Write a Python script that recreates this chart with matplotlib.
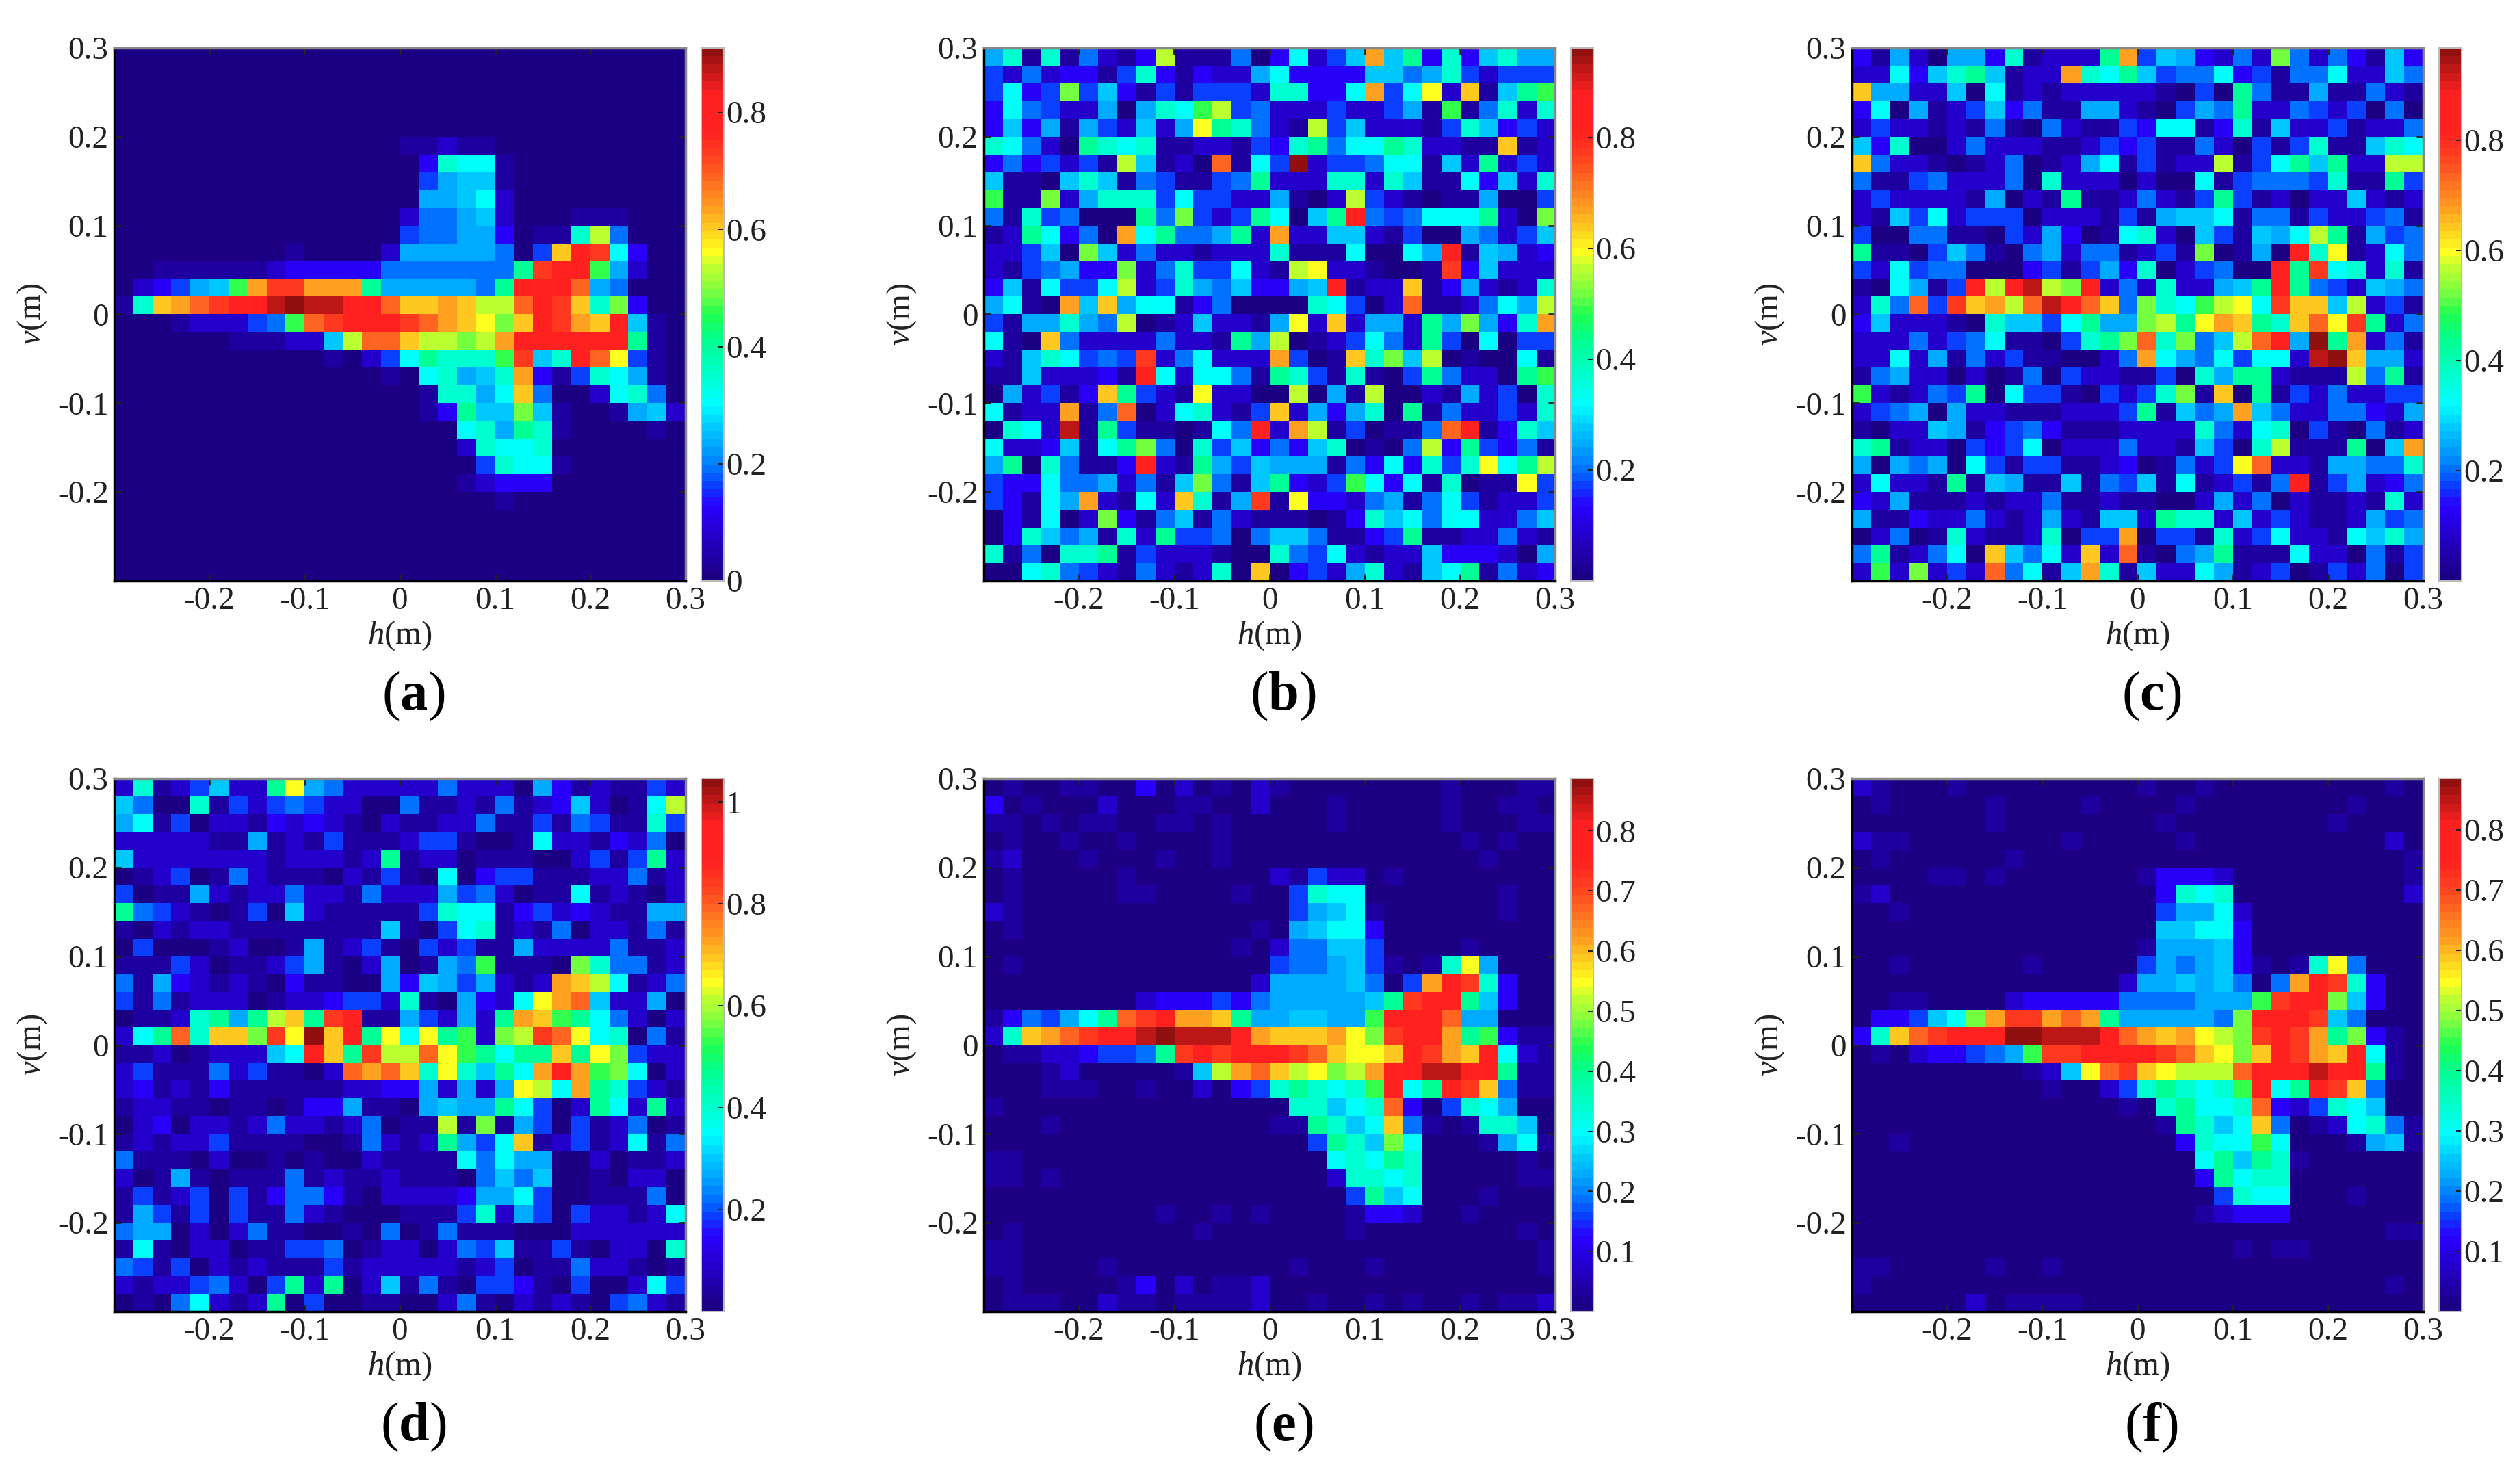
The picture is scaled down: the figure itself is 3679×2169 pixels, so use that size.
#!/usr/bin/env python

import matplotlib
matplotlib.use("Agg")
import matplotlib.pyplot as plt
import numpy as np
from matplotlib.colors import LinearSegmentedColormap

plt.rcParams["font.family"] = ["Liberation Serif", "DejaVu Serif"]
plt.rcParams["mathtext.fontset"] = "custom"
plt.rcParams["mathtext.rm"] = "Liberation Serif"
plt.rcParams["mathtext.it"] = "Liberation Serif:italic"
plt.rcParams["mathtext.bf"] = "Liberation Serif:bold"
plt.rcParams["axes.unicode_minus"] = False

# each character is one cell, see levels below
# rows go from top (v=0.3) to bottom, spaces only help counting, short rows end in zeros
levels = {"0": 0.0, "1": 0.04, "2": 0.09, "3": 0.135, "4": 0.175, "5": 0.21, "6": 0.25,
          "7": 0.285, "8": 0.33, "9": 0.39, "a": 0.45, "b": 0.50, "c": 0.545, "d": 0.59,
          "e": 0.62, "f": 0.66, "g": 0.70, "h": 0.75, "i": 0.80, "j": 0.87, "k": 0.96, "l": 1.0}

panel_a = ["", "", "", "", "",
           "00000 00000 00000 11211",
           "00000 00000 00000 03988 1",
           "00000 00000 00000 04677 1",
           "00000 00000 00000 06678 2",
           "00000 00000 00000 25567 20001 11",
           "00000 00000 00000 45566 30119 d5",
           "00000 00001 00002 66666 504fj i83",
           "00111 11123 33335 55555 5aijj b62",
           "02346 7bgii ggga6 66665 ajjjh 65",
           "19fgh ijjkl kkjjh ffgfd dhjif 9c3",
           "00012 2245b hijjj ihgfe cfjig fj71",
           "00000 01112 27dhh fddcd gjjjj jja1",
           "00000 00000 01024 8a999 bi79j he41",
           "00000 00000 00001 08967 9g314 9861",
           "00000 00000 00000 01996 8f500 28950",
           "00000 00000 00000 013a7 7c710 01672",
           "00000 00000 00000 00089 6a910 0001",
           "00000 00000 00000 00029 88900",
           "00000 00000 00000 00004 98810",
           "00000 00000 00000 00012 33300",
           "00000 00000 00000 00000 1",
           "", "", "", ""]

panel_b = ["69191 5213d 11150 38247 g7a39 37966",
           "42523 31493 13226 83333 77569 42444",
           "4834c 47314 14442 99338 g48e2 f17ab",
           "38542 26069 8bd45 22242 2461b 15929",
           "37361 64272 6ea95 21d47 22214 97342",
           "98520 a9891 12214 39a58 8a922 11f12",
           "35342 41d71 20h18 4l244 58817 2a242",
           "71107 97154 1145a 22299 29711 83729",
           "b11c2 69994 84422 6102d 42101 16004",
           "51945 000a5 c424a 807aj 54588 8a20c",
           "12a83 50g8a 556a2 g2277 21400 65247",
           "22470 c7252 21222 91118 0086j 17623",
           "21456 33c25 94482 1de22 1001i 37222",
           "37184 48d24 96573 367j1 22f13 62129",
           "6810g 7f688 13500 00984 02h11 2586d",
           "41669 65d01 27221 6e2f2 662a6 c639g",
           "810f5 22225 221a6 d0124 852a4 08044",
           "21798 454i2 58222 g401f 9c7d0 10081",
           "11722 231j8 28851 a9419 104a5 220ab",
           "06241 3fa42 1e220 0d061 d0021 62409",
           "8122g 15h02 89214 f2636 90a15 22429",
           "0982k 1a411 0185j 2gd14 0115h j1397",
           "82237 18ac5 09473 53790 105d3 a4351",
           "6a095 113j2 1a647 66615 38394 9e8ad",
           "43385 56251 7c517 a324b 83819 011e4",
           "43186 g2182 f916i 1e332 56158 41224",
           "03180 2c315 71521 11013 97858 82257",
           "03975 6192a 44505 77511 34a11 22521",
           "91509 9a142 22100 95482 12273 33206",
           "00895 42152 1290f 03426 92178 a1523"]

panel_c = ["31620 66391 222ag 47632 52c52 53173",
           "22837 9a712 2g98a 74558 34155 82275",
           "f6622 70812 12222 21040 a5116 11521",
           "38061 24735 11662 10465 a2254 24050",
           "24221 21510 52114 38813 91722 41225",
           "73900 25222 11243 41152 04149 11798",
           "f5221 01250 12681 4122d 148a7 a22dd",
           "51145 22250 92220 20081 45554 911a4",
           "24222 21602 1a112 5214a 41202 27212",
           "21748 24440 22214 16778 15514 22451",
           "40055 11042 63018 92074 1768d a1645",
           "a1104 75105 62551 241c0 160j9 e1285",
           "42845 50003 41463 90245 00jai 89291",
           "10861 4jdjk dcj25 29226 7aja5 42765",
           "295h4 ifgdh kjhf5 c98bd e8iff 7d241",
           "37222 10977 48a66 cdaeg fa9fh eia25",
           "22252 45811 049ac h9c57 dhj6l ag251",
           "22826 15241 10025 g8658 4882k lf662",
           "15622 02015 04221 14096 aa211 1d5a1",
           "b2125 4a084 41042 49c1f 0a142 52244",
           "24560 62211 12224 a1756 g7522 55326",
           "10227 61345 31112 22295 28904 10512",
           "9a122 04348 02225 22174 09d11 1a07g",
           "60656 08414 41123 01524 eh221 66559",
           "28221 a1761 17154 71812 415j1 46235",
           "32611 12122 51121 10026 25021 12192",
           "61132 25212 62177 2a992 72421 12645",
           "02501 92112 9044g 04419 24822 18796",
           "5a125 80f75 82f2h 1056a 11182 20514",
           "2b2c2 42h58 17g91 72286 12401 42504"]

panel_d = ["29124 722ae 65222 22522 20631 21142",
           "75009 14245 42200 51121 51237 2018d",
           "68140 22132 32102 11225 11415 41194",
           "22222 11612 14111 24410 01822 13250",
           "72222 22212 2212a 12201 11002 414a2",
           "01240 15211 10214 10803 44111 22512",
           "40116 21225 22152 22645 20118 12102",
           "a5421 01407 21111 14988 13423 21166",
           "10212 21111 11117 10489 12150 22151",
           "04000 12001 61241 04241 16222 25112",
           "11142 01124 61026 0165b 1110c 95512",
           "51632 12103 11006 37646 212gf d8125",
           "41512 22012 23442 91063 28egh 72260",
           "01129 a6adf aij11 64262 agfba 85202",
           "28ah9 ffcie lfjae 8eab2 cdihe 89051",
           "11201 22278 jfaid dheba 8aafa ec422",
           "24111 52411 02hgh f9e97 a8gjg bc802",
           "23121 31111 11223 36262 6ed8g a9421",
           "12211 01101 33611 06766 a8402 a82a2",
           "02302 21252 21250 11d1c 16404 12501",
           "12122 41111 00152 12a64 8f124 12815",
           "51110 20010 10021 11185 86600 20112",
           "20161 01115 12112 11105 75700 10220",
           "14124 04135 53102 22236 68400 11150",
           "16414 04115 21000 11149 26404 22128",
           "56602 02511 00105 01511 10002 22222",
           "18102 20114 45012 20254 71141 02209",
           "54140 21211 14122 22212 40115 22101",
           "21224 5204a 2a027 15104 43104 00284",
           "01058 212a0 40011 00251 02121 04521"]

panel_e = ["01001 10030 20102 10000 00001 00011",
           "30100 02000 11002 00010 00001 00110",
           "11010 11001 10100 00010 00001 00011",
           "01001 00100 00100 00000 00000 10100",
           "12000 10001 00100 00000 00000 01000",
           "01000 00100 00000 21422 01000 00000",
           "01000 00110 00010 04988 00000 00100",
           "21000 00000 00000 04678 10000 00100",
           "01000 00000 00001 06788 30000 00000",
           "00000 00000 00010 25577 40000 10000",
           "01000 00000 00000 45567 41019 e6000",
           "00000 00000 00002 66667 504gj i93",
           "00000 00023 33435 66666 7aijj a73",
           "13546 8ahij ggfa6 67766 bjjjh 66",
           "29fgh ijjkl kkkjg fffge cijjg ab311",
           "01122 3445a ijijj jihfe efjig fj821",
           "00012 00000 17dgh fdecd gjjkk jja11",
           "00011 10010 02034 9a989 bj8aj if511",
           "10000 00000 00000 09978 9h304 98600",
           "00010 00000 00000 11a97 8f510 19970",
           "00000 00000 00000 004a9 7c800 01681",
           "11000 00000 00000 00089 8a900 00010",
           "11010 00000 00000 00029 98900 00011",
           "00000 00000 00000 00004 a7800 01000",
           "00000 00001 00101 00001 33200 10000",
           "01000 00000 01000 00001 00000 00010",
           "11000 00000 00000 00000 00000 00001",
           "11000 01000 00000 01000 10000 00001",
           "01000 00130 20112 00000 00000 00000",
           "01110 02110 11112 00100 10100 10112"]

panel_f = ["21000 10000 00000 10010 00000 00010",
           "01000 00100 00100 00100 00000 01000",
           "00000 00100 00000 01000 00000 10000",
           "21100 00000 01000 00100 00000 00020",
           "01000 00010 00000 00000 00000 00001",
           "00001 10100 00000 13332 00000 00001",
           "12000 00000 00000 03989 00000 00002",
           "00100 00000 00000 04668 20000 00000",
           "00000 00000 00000 07788 30000 00000",
           "00000 00000 00000 16667 30000 00000",
           "00100 00001 00000 46567 31019 e5",
           "00000 00000 00002 66767 505gj i93",
           "00110 00023 33335 55566 6bijj c73",
           "03347 8cgii ghga6 66665 cjjji 75",
           "39fhi jjjll kkkjh gfged cijig ac31",
           "01023 3456b iijjj jihfe cfjig fj81",
           "00000 00001 27ehi feddd hjjjk jja1",
           "00000 00000 10024 9a989 bj8aj if5",
           "00000 00000 00001 09a88 9h324 987",
           "00000 00000 00000 01a97 8f501 28951",
           "00100 00000 00000 00398 8b800 01671",
           "00000 00000 00000 0008a 7a910 00000",
           "00000 00000 00000 0003a 89900",
           "00000 00000 00000 00004 98800 01000",
           "00000 00000 00000 00012 33300",
           "00000 00000 00000 00000 00000 00011",
           "00000 00000 00000 00000 10110 00000",
           "11000 00100 10000 00000 00000 00000",
           "10000 00000 00000 00000 00000 00010",
           "00000 02011 11000 00000 00000 00000"]

panels = [panel_a, panel_b, panel_c, panel_d, panel_e, panel_f]
names = ["a", "b", "c", "d", "e", "f"]
vmins = [0, 0, 0, 0, 0, 0]
vmaxs = [0.91, 0.962, 0.967, 1.046, 0.887, 0.885]

axis_ticks = [-0.2, -0.1, 0, 0.1, 0.2, 0.3]
axis_labels = ["-0.2", "-0.1", "0", "0.1", "0.2", "0.3"]
bar_ticks = [[0, 0.2, 0.4, 0.6, 0.8],
             [0.2, 0.4, 0.6, 0.8],
             [0.2, 0.4, 0.6, 0.8],
             [0.2, 0.4, 0.6, 0.8, 1],
             [0.1, 0.2, 0.3, 0.4, 0.5, 0.6, 0.7, 0.8],
             [0.1, 0.2, 0.3, 0.4, 0.5, 0.6, 0.7, 0.8]]
bar_labels = [["0", "0.2", "0.4", "0.6", "0.8"],
              ["0.2", "0.4", "0.6", "0.8"],
              ["0.2", "0.4", "0.6", "0.8"],
              ["0.2", "0.4", "0.6", "0.8", "1"],
              ["0.1", "0.2", "0.3", "0.4", "0.5", "0.6", "0.7", "0.8"],
              ["0.1", "0.2", "0.3", "0.4", "0.5", "0.6", "0.7", "0.8"]]

# jet as the picture shows it, 64 steps
cmap = LinearSegmentedColormap.from_list("pic_jet", [
    (0.0, "#1b0083"), (0.135, "#2a00ff"), (0.175, "#0a40ff"), (0.21, "#0078ff"),
    (0.25, "#00a8ff"), (0.285, "#00c8ff"), (0.33, "#00ffff"), (0.39, "#00ffc8"),
    (0.45, "#00ff90"), (0.50, "#20ff50"), (0.545, "#80ff40"), (0.59, "#c0ff30"),
    (0.62, "#ffff20"), (0.66, "#ffd020"), (0.70, "#ffa020"), (0.75, "#ff7020"),
    (0.80, "#ff4020"), (0.85, "#ff2020"), (0.92, "#ff2020"), (0.96, "#c81818"),
    (1.0, "#901010")], N=64)

W = 3679
H = 2169
lefts = [167, 1438, 2707]
tops = [70, 1138]
ax_w = 835
ax_h = 779
bar_gap = 23
bar_w = 33


def rect(x, y, w, h):
    return [x / W, 1 - (y + h) / H, w / W, h / H]


def to_grid(rows, vmax):
    grid = np.zeros((30, 30))
    for r, row in enumerate(rows):
        row = row.replace(" ", "").ljust(30, "0")
        for c in range(30):
            grid[r, c] = levels[row[c]] * vmax
    return grid


fig = plt.figure(figsize=(W / 100, H / 100), dpi=100)

for i in range(6):
    x = lefts[i % 3]
    y = tops[i // 3]
    ax = fig.add_axes(rect(x, y, ax_w, ax_h))
    cax = fig.add_axes(rect(x + ax_w + bar_gap, y, bar_w, ax_h))

    grid = to_grid(panels[i], vmaxs[i])
    im = ax.imshow(grid, cmap=cmap, vmin=vmins[i], vmax=vmaxs[i], aspect="auto",
                   extent=[-0.3, 0.3, -0.3, 0.3], origin="upper", interpolation="nearest")

    ax.set_xticks(axis_ticks)
    ax.set_xticklabels(axis_labels)
    ax.set_yticks(axis_ticks)
    ax.set_yticklabels(axis_labels)
    ax.tick_params(direction="in", top=True, right=True, length=7, width=2,
                   labelsize=34, pad=6, color="#222222", labelcolor="#222222")
    ax.set_xlabel(r"$\mathit{h}$(m)", fontsize=35, color="#222222")
    ax.xaxis.set_label_coords(0.5, -0.072)
    ax.set_ylabel(r"$\mathit{v}$(m)", fontsize=35, color="#222222")
    ax.yaxis.set_label_coords(-0.115, 0.5)
    for side in ["left", "bottom"]:
        ax.spines[side].set_linewidth(2.5)
    for side in ["top", "right"]:
        ax.spines[side].set_linewidth(2.5)
        ax.spines[side].set_color("#888888")

    cbar = fig.colorbar(im, cax=cax)
    cbar.set_ticks(bar_ticks[i])
    cbar.set_ticklabels(bar_labels[i])
    cax.tick_params(direction="in", length=6, width=1.5, labelsize=34, pad=2,
                    color="#222222", labelcolor="#222222")
    cbar.outline.set_linewidth(1.5)
    cbar.outline.set_edgecolor("#bbbbbb")

    ax.text(0.524, -0.217, "($\\mathbf{" + names[i] + "}$)", transform=ax.transAxes,
            ha="center", va="center", fontsize=58, color="black")

fig.savefig("out.png", dpi=100)
